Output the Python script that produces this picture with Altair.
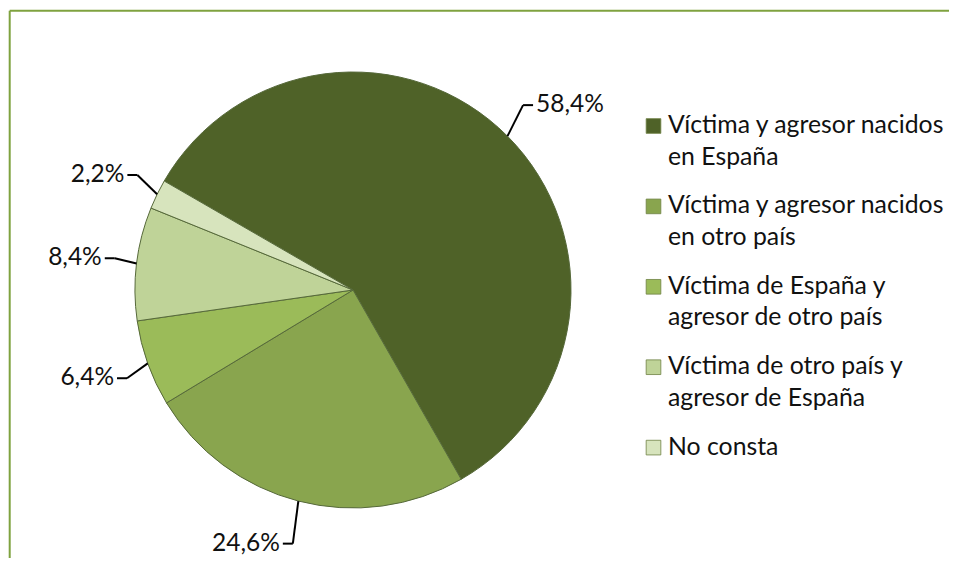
import math
import altair as alt
import pandas as pd

# ---- data ----
categories = [
    "Víctima y agresor nacidos en España",
    "Víctima y agresor nacidos en otro país",
    "Víctima de España y agresor de otro país",
    "Víctima de otro país y agresor de España",
    "No consta",
]
legend_line1 = [
    "Víctima y agresor nacidos",
    "Víctima y agresor nacidos",
    "Víctima de España y",
    "Víctima de otro país y",
    "No consta",
]
legend_line2 = ["en España", "en otro país", "agresor de otro país", "agresor de España", ""]
values = [58.4, 24.6, 6.4, 8.4, 2.2]
labels = ["58,4%", "24,6%", "6,4%", "8,4%", "2,2%"]
colors = ["#4F6228", "#89A54E", "#9BBB59", "#BFD398", "#D7E4BD"]

# ---- layout ----
W, H = 941, 550
CX, CY, R = 345, 282, 218
RX_ELBOW, RY_ELBOW = 240, 262
START = math.radians(300)
FONT = "Lato"
FS_LAB = 24.5
FS_LEG = 24.8
TXT = "#111111"
FRAME = "#7FA23F"

df = pd.DataFrame({
    "idx": list(range(len(values))),
    "cat": categories,
    "value": values,
    "label": labels,
    "l1": legend_line1,
    "l2": legend_line2,
})

base = alt.Chart(df)
color = alt.Color("cat:N", scale=alt.Scale(domain=categories, range=colors), legend=None)

pie = base.mark_arc(radius=R, stroke="#56693A", strokeWidth=1).encode(
    theta=alt.Theta("value:Q", stack=True,
                    scale=alt.Scale(range=[START, START + 2 * math.pi])),
    color=color,
    order=alt.Order("idx:Q"),
    x=alt.value(CX),
    y=alt.value(CY),
)

geo = (
    base.transform_window(cum="sum(value)", sort=[alt.SortField("idx")], frame=[None, 0])
    .transform_joinaggregate(total="sum(value)")
    .transform_calculate(mid="(datum.cum - datum.value/2)/datum.total")
    .transform_calculate(ang=f"{START} + 2*PI*datum.mid")
    .transform_calculate(side="sin(datum.ang) >= 0 ? 1 : -1")
    .transform_calculate(x0=f"{CX} + {R}*sin(datum.ang)")
    .transform_calculate(y0=f"{CY} - {R}*cos(datum.ang)")
    .transform_calculate(x1=f"{CX} + {RX_ELBOW}*sin(datum.ang)")
    .transform_calculate(y1=f"{CY} - {RY_ELBOW}*cos(datum.ang)")
    .transform_calculate(x2="datum.x1 + 10*datum.side")
    .transform_calculate(xt="datum.x2 + 3*datum.side")
)

lead1 = geo.mark_rule(color="#000000", strokeWidth=2).encode(
    x=alt.X("x0:Q", scale=None), y=alt.Y("y0:Q", scale=None), x2="x1:Q", y2="y1:Q"
)
lead2 = geo.mark_rule(color="#000000", strokeWidth=2).encode(
    x=alt.X("x1:Q", scale=None), y=alt.Y("y1:Q", scale=None), x2="x2:Q"
)
lab_r = geo.transform_filter("datum.side > 0").mark_text(
    align="left", baseline="middle", font=FONT, fontSize=FS_LAB, color=TXT
).encode(x=alt.X("xt:Q", scale=None), y=alt.Y("y1:Q", scale=None), text="label:N")
lab_l = geo.transform_filter("datum.side < 0").mark_text(
    align="right", baseline="middle", font=FONT, fontSize=FS_LAB, color=TXT
).encode(x=alt.X("xt:Q", scale=None), y=alt.Y("y1:Q", scale=None), text="label:N")

leg = base.transform_calculate(ly="118 + 80.4*datum.idx")
leg_sq = leg.mark_square(size=215, opacity=1, stroke="#6E8244", strokeWidth=0.8).encode(
    x=alt.value(645.5), y=alt.Y("ly:Q", scale=None), color=color
)
leg_t1 = leg.mark_text(align="left", baseline="middle", font=FONT, fontSize=FS_LEG, color=TXT).encode(
    x=alt.value(660), y=alt.Y("ly:Q", scale=None), text="l1:N"
)
leg_t2 = leg.transform_calculate(ly2="datum.ly + 31.5").mark_text(
    align="left", baseline="middle", font=FONT, fontSize=FS_LEG, color=TXT
).encode(x=alt.value(660), y=alt.Y("ly2:Q", scale=None), text="l2:N")

fd = pd.DataFrame({"f": [0]})
frame_top = alt.Chart(fd).mark_rule(color=FRAME, strokeWidth=2).encode(
    x=alt.value(1.7), x2=alt.value(W), y=alt.value(2.7)
)
frame_left = alt.Chart(fd).mark_rule(color=FRAME, strokeWidth=2).encode(
    x=alt.value(1.7), y=alt.value(2.7), y2=alt.value(H)
)

chart = alt.layer(
    pie, lead1, lead2, lab_r, lab_l, leg_sq, leg_t1, leg_t2, frame_top, frame_left
).properties(
    width=W, height=H, padding=0,
    autosize=alt.AutoSizeParams(type="fit", contains="padding"),
).configure_view(stroke=None)

chart.save("out.html", embed_options={"renderer": "svg", "actions": False})
